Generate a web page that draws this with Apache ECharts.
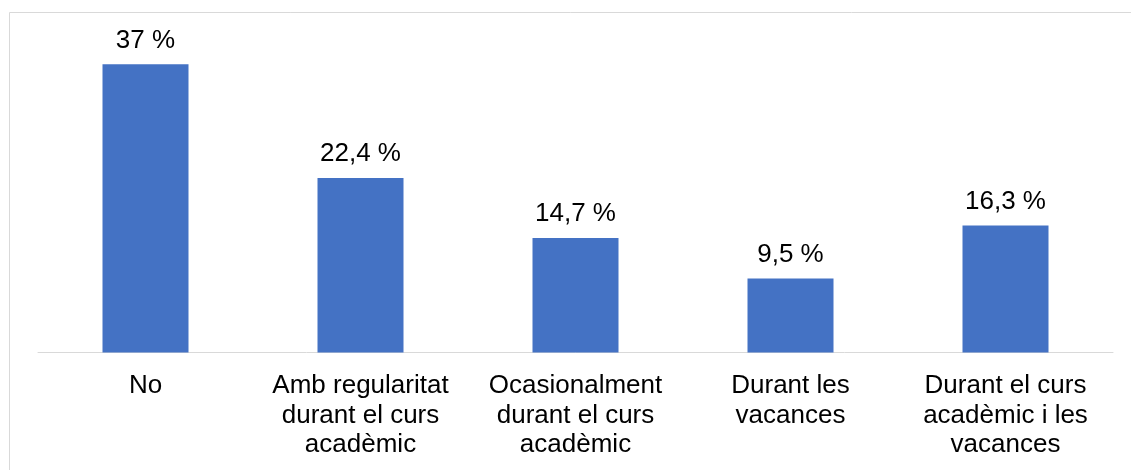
<!DOCTYPE html>
<html>
<head>
<meta charset="utf-8">
<script src="https://cdn.jsdelivr.net/npm/echarts@6/dist/echarts.min.js"></script>
<style>
html,body{margin:0;padding:0;background:#fff;}
#chart{width:1131px;height:470px;}
</style>
</head>
<body>
<div id="chart"></div>
<script>
const categories = [
  "No",
  "Amb regularitat\ndurant el curs\nacadèmic",
  "Ocasionalment\ndurant el curs\nacadèmic",
  "Durant les\nvacances",
  "Durant el curs\nacadèmic i les\nvacances"
];
const values = [37, 22.4, 14.7, 9.5, 16.3];

const chart = echarts.init(document.getElementById('chart'), null, {renderer: 'canvas'});
const font = '"Liberation Sans", Arial, sans-serif';
chart.setOption({
  animation: false,
  backgroundColor: '#fff',
  graphic: [{
    type: 'rect',
    shape: {x: 9.5, y: 12.5, width: 1300, height: 600},
    style: {fill: 'none', stroke: '#d9d9d9', lineWidth: 1},
    silent: true
  }],
  grid: {left: 38, right: 18, top: 41, bottom: 117.5, containLabel: false},
  xAxis: {
    type: 'category',
    data: categories,
    axisLine: {lineStyle: {color: '#d9d9d9', width: 1}},
    axisTick: {show: false},
    axisLabel: {
      interval: 0,
      color: '#000',
      fontFamily: font,
      fontSize: 26,
      lineHeight: 29.5,
      margin: 19
    }
  },
  yAxis: {
    type: 'value',
    min: 0,
    max: 40,
    show: false,
    splitLine: {show: false}
  },
  series: [{
    type: 'bar',
    data: values,
    barWidth: '40%',
    itemStyle: {color: '#4472C4'},
    label: {
      show: true,
      position: 'top',
      distance: 11,
      color: '#000',
      fontFamily: font,
      fontSize: 26,
      formatter: p => String(p.value).replace('.', ',') + ' %'
    }
  }]
});
</script>
</body>
</html>
